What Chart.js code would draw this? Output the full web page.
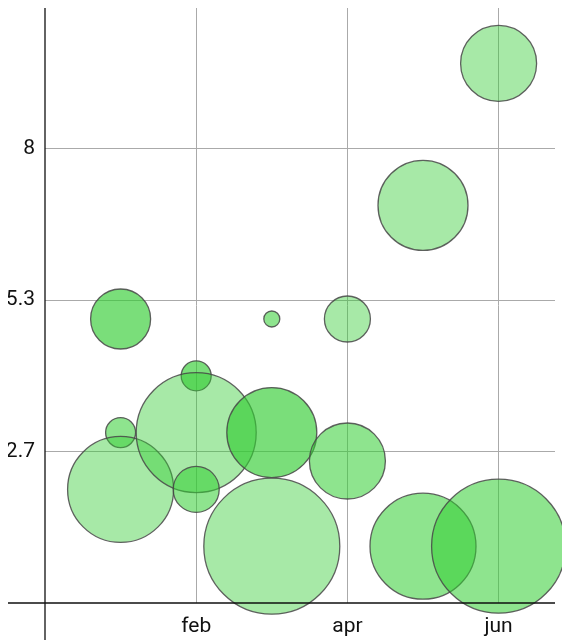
<!DOCTYPE html>
<html>
<head>
<meta charset="utf-8">
<script src="https://cdn.jsdelivr.net/npm/chart.js@4.4.1/dist/chart.umd.min.js"></script>
<style>
  html, body { margin: 0; padding: 0; background: #fff; }
  #wrap { width: 562px; height: 641px; }
</style>
</head>
<body>
<div id="wrap"><canvas id="bubbleChart" width="562" height="641"></canvas></div>
<script>
// months on the x axis (jan = 1, dec before it = 0)
const months = ['jan', 'feb', 'mar', 'apr', 'may', 'jun'];
const xTickValues = [2, 4, 6];
const xTickLabels = ['feb', 'apr', 'jun'];
const yTickValues = [8 / 3, 16 / 3, 8];
const yTickLabels = ['2.7', '5.3', '8'];

// one entry per bubble
const bubbleMonth = ['jan', 'jan', 'jan', 'feb', 'feb', 'feb', 'mar', 'mar', 'mar', 'apr', 'apr', 'may', 'may', 'jun', 'jun'];
const bubbleValue = [5, 3, 2, 4, 3, 2, 5, 3, 1, 5, 2.5, 7, 1, 9.5, 1];
const bubbleSize = [30, 15, 53, 15, 60, 23, 8, 45, 68, 23, 38, 45, 53, 38, 67];

// fill opacity per bubble (light / medium / dark)
const bubbleAlpha = [0.65, 0.55, 0.43, 0.65, 0.43, 0.55, 0.55, 0.65, 0.43, 0.43, 0.55, 0.43, 0.55, 0.43, 0.55];

const points = bubbleMonth.map((m, i) => ({
    x: months.indexOf(m) + 1,
    y: bubbleValue[i],
    r: bubbleSize[i]
}));

Chart.defaults.font.family = 'Roboto, "DejaVu Sans", sans-serif';
Chart.defaults.font.size = 21;
Chart.defaults.color = '#111';

// axis lines cross at the origin and run a bit past the plot box
const crossAxes = {
    id: 'crossAxes',
    afterDatasetsDraw(chart) {
        const { ctx, chartArea, scales } = chart;
        const x0 = scales.x.getPixelForValue(0);
        const y0 = scales.y.getPixelForValue(0);
        ctx.save();
        ctx.strokeStyle = '#111';
        ctx.lineWidth = 1.3;
        ctx.beginPath();
        ctx.moveTo(chartArea.left - 37, y0);
        ctx.lineTo(chartArea.right, y0);
        ctx.moveTo(x0, chartArea.top);
        ctx.lineTo(x0, chartArea.bottom + 37);
        ctx.stroke();
        ctx.restore();
    }
};

const ctx = document.getElementById('bubbleChart').getContext('2d');
new Chart(ctx, {
    type: 'bubble',
    data: {
        datasets: [{
            data: points,
            backgroundColor: bubbleAlpha.map(a => `rgba(50, 205, 50, ${a})`),
            borderColor: 'rgba(70, 70, 70, 0.85)',
            borderWidth: 1.3,
            clip: false
        }]
    },
    options: {
        responsive: false,
        animation: false,
        layout: { autoPadding: false, padding: { left: 8, top: 8, right: 7, bottom: 0 } },
        plugins: {
            legend: { display: false },
            tooltip: { enabled: false }
        },
        scales: {
            x: {
                type: 'linear',
                min: 0,
                max: 6.746,
                afterBuildTicks: scale => { scale.ticks = xTickValues.map(v => ({ value: v })); },
                afterFit: scale => {
                    scale.height = 38;
                    scale.paddingLeft = 0;
                    scale.paddingRight = 0;
                },
                ticks: {
                    padding: 11,
                    maxRotation: 0,
                    callback: (v, i) => xTickLabels[i]
                },
                grid: { color: '#aaaaaa', lineWidth: 1, drawTicks: false },
                border: { display: false }
            },
            y: {
                type: 'linear',
                min: 0,
                max: 10.475,
                afterBuildTicks: scale => { scale.ticks = yTickValues.map(v => ({ value: v })); },
                afterFit: scale => {
                    scale.width = 37;
                    scale.paddingTop = 0;
                    scale.paddingBottom = 0;
                },
                ticks: {
                    padding: 10,
                    callback: (v, i) => yTickLabels[i]
                },
                grid: { color: '#aaaaaa', lineWidth: 1, drawTicks: false },
                border: { display: false }
            }
        }
    },
    plugins: [crossAxes]
});
</script>
</body>
</html>
